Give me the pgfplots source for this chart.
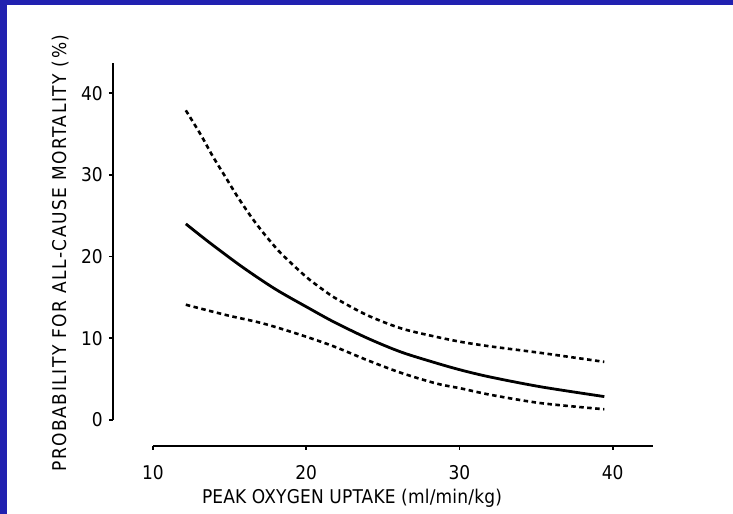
\documentclass[border=0pt]{standalone}
\usepackage{fontspec}
\setmainfont{DejaVu Sans Condensed}
\usepackage{pgfplots}
\pgfplotsset{compat=1.18}
\definecolor{frameblue}{HTML}{2121B0}
\begin{document}
\begin{tikzpicture}[x=1bp,y=1bp]
% scanned slide: blue frame round a white page
\fill[frameblue] (-113,-68) rectangle (620,446);
\fill[white] (-106,-68) rectangle (620,441);
\begin{axis}[
  at={(0,0)}, anchor=south west,
  scale only axis, width=539.6bp, height=383bp,
  xmin=7.4, xmax=42.6, ymin=-3.2, ymax=43.7,
  axis x line*=bottom, axis y line*=left,
  axis line style={draw=none},
  xtick={10,20,30,40}, ytick={0,10,20,30,40},
  tick align=outside, major tick length=4bp,
  tick style={line width=1.5bp, black},
  /pgf/number format/assume math mode=true,
  ticklabel style={font=\fontsize{19}{19}\selectfont, inner sep=0pt},
  xticklabel style={anchor=north, yshift=-15bp},
  yticklabel style={anchor=east, xshift=-6bp},
  xlabel={PEAK OXYGEN UPTAKE (ml/min/kg)},
  xlabel style={at={(axis description cs:0.443,-0.136)}, anchor=center,
    font=\fontsize{19}{19}\selectfont\addfontfeature{LetterSpace=1}},
  ylabel={PROBABILITY FOR ALL-CAUSE MORTALITY (\%)},
  ylabel style={at={(axis description cs:-0.098,0.504)}, anchor=center,
    font=\fontsize{19}{19}\selectfont\addfontfeature{LetterSpace=8}},
  clip=false,
]
% axis lines as drawn in the original figure
\draw[line width=2.5bp] (axis cs:7.4,0) -- (axis cs:7.4,43.7);
\draw[line width=2.2bp] (axis cs:10,-3.2) -- (axis cs:42.6,-3.2);

% fitted probability
\addplot[black, line width=2.8bp, smooth] coordinates {
  (12.15,24.0) (13.7,21.7) (15.85,18.7) (18,16.0) (20.2,13.65)
  (21.8,12.0) (24,10.0) (26.2,8.3) (28.5,6.95) (30.1,6.1)
  (32,5.25) (35.3,4.05) (39.45,2.85)
};
% upper confidence limit
\addplot[black, line width=2.6bp, dash pattern=on 4.5bp off 3.5bp, smooth] coordinates {
  (12.15,37.9) (13.13,34.9) (13.9,32.3) (14.75,29.7) (15.5,27.4)
  (16.4,24.9) (17.25,22.8) (18.25,20.6) (19.3,18.7) (20.2,17.2)
  (21.2,15.8) (22,14.8) (24,12.8) (26.2,11.2) (28.4,10.2)
  (30.1,9.55) (32,9.0) (35.3,8.2) (39.45,7.1)
};
% lower confidence limit
\addplot[black, line width=2.6bp, dash pattern=on 4.5bp off 3.5bp, smooth] coordinates {
  (12.15,14.1) (14.75,12.85) (17.2,11.8) (19.65,10.4) (21.8,9.0)
  (24,7.3) (26.2,5.75) (28.5,4.45) (30.1,3.85) (32.05,3.06)
  (35.3,2.05) (39.45,1.3)
};
\end{axis}
\end{tikzpicture}
\end{document}
